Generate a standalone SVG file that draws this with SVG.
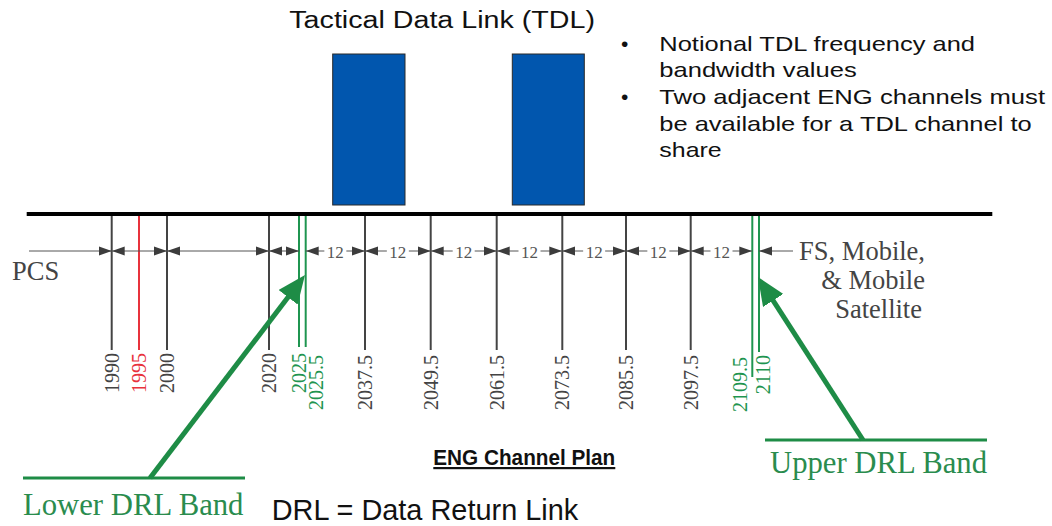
<svg xmlns="http://www.w3.org/2000/svg" width="1052" height="526" viewBox="0 0 1052 526">
<defs>
<style>
.sans{font-family:"Liberation Sans",Arial,sans-serif;fill:#111}
.serif{font-family:"Liberation Serif","Times New Roman",serif}
.tick{stroke:#444;stroke-width:2}
.tickG{stroke:#1f9550;stroke-width:2}
.tickR{stroke:#e8323c;stroke-width:2}
.lbl{font-family:"Liberation Serif","Times New Roman",serif;font-size:20px;fill:#444;text-anchor:end}
.lblG{fill:#1f9550}
.lblR{fill:#e8323c}
.dim{stroke:#555;stroke-width:1;fill:none;marker-end:url(#dimArrow)}
.dimtxt{font-family:"Liberation Serif","Times New Roman",serif;font-size:17px;fill:#555;text-anchor:middle}
.side{font-family:"Liberation Serif","Times New Roman",serif;font-size:26.5px;fill:#444}
.green{stroke:#1e8c46;fill:none}
.gtext{font-family:"Liberation Serif","Times New Roman",serif;font-size:30.7px;fill:#2a8c4e}
.tdl{fill:#0156ae;stroke:#2a2a2a;stroke-width:1}
</style>
<marker id="dimArrow" markerUnits="userSpaceOnUse" markerWidth="13" markerHeight="10" refX="13" refY="5" orient="auto">
<path d="M0,0.4 L13,5 L0,9.6Z" fill="#3c3c3c"/>
</marker>
<marker id="greenArrow" markerUnits="userSpaceOnUse" markerWidth="28" markerHeight="24" refX="10" refY="12" orient="auto">
<path d="M0,0 L28,12 L0,24Z" fill="#1e8c46"/>
</marker>
</defs>
<rect width="1052" height="526" fill="#fff"/>

<g id="title">
<text class="sans" x="289.3" y="28.3" font-size="23.5" textLength="305.7" lengthAdjust="spacingAndGlyphs">Tactical Data Link (TDL)</text>
</g>

<g id="tdl-channels">
<rect id="tdl1" class="tdl" x="332.7" y="54" width="72.3" height="151"/>
<rect id="tdl2" class="tdl" x="512.3" y="54" width="72" height="151"/>
</g>

<g id="notes">
<text class="sans" x="621" y="51" font-size="21">•</text>
<text class="sans" x="659.3" y="51" font-size="21" textLength="315.7" lengthAdjust="spacingAndGlyphs">Notional TDL frequency and</text>
<text class="sans" x="659.3" y="77.3" font-size="21" textLength="197.4" lengthAdjust="spacingAndGlyphs">bandwidth values</text>
<text class="sans" x="621" y="104.3" font-size="21">•</text>
<text class="sans" x="659.3" y="104.3" font-size="21" textLength="385.7" lengthAdjust="spacingAndGlyphs">Two adjacent ENG channels must</text>
<text class="sans" x="659.3" y="131" font-size="21" textLength="372.4" lengthAdjust="spacingAndGlyphs">be available for a TDL channel to</text>
<text class="sans" x="659.3" y="156.7" font-size="21" textLength="62.4" lengthAdjust="spacingAndGlyphs">share</text>
</g>

<g id="axis">
<line x1="26.7" y1="214" x2="992.3" y2="214" stroke="#000" stroke-width="4"/>
</g>

<g id="frequency-lines">
<line class="tick" x1="111.7" y1="216" x2="111.7" y2="350"/>
<line class="tickR" x1="139" y1="216" x2="139" y2="350"/>
<line class="tick" x1="167" y1="216" x2="167" y2="350"/>
<line class="tick" x1="269" y1="216" x2="269" y2="350"/>
<line class="tickG" x1="299" y1="216" x2="299" y2="347"/>
<line class="tickG" x1="305.7" y1="216" x2="305.7" y2="347"/>
<line class="tick" x1="365" y1="216" x2="365" y2="350"/>
<line class="tick" x1="430.7" y1="216" x2="430.7" y2="350"/>
<line class="tick" x1="496.7" y1="216" x2="496.7" y2="350"/>
<line class="tick" x1="562.3" y1="216" x2="562.3" y2="350"/>
<line class="tick" x1="626" y1="216" x2="626" y2="350"/>
<line class="tick" x1="690.7" y1="216" x2="690.7" y2="350"/>
<line class="tickG" x1="752.3" y1="216" x2="752.3" y2="377"/>
<line class="tickG" x1="759" y1="216" x2="759" y2="352"/>
</g>

<g id="frequency-labels">
<text class="lbl" transform="translate(118.5,353) rotate(-90)">1990</text>
<text class="lbl lblR" transform="translate(146,353) rotate(-90)">1995</text>
<text class="lbl" transform="translate(174,353) rotate(-90)">2000</text>
<text class="lbl" transform="translate(276,353) rotate(-90)">2020</text>
<text class="lbl lblG" transform="translate(305.5,353) rotate(-90)">2025</text>
<text class="lbl lblG" transform="translate(323,355) rotate(-90)">2025.5</text>
<text class="lbl" transform="translate(372,355) rotate(-90)">2037.5</text>
<text class="lbl" transform="translate(437.5,355) rotate(-90)">2049.5</text>
<text class="lbl" transform="translate(503.5,355) rotate(-90)">2061.5</text>
<text class="lbl" transform="translate(569,355) rotate(-90)">2073.5</text>
<text class="lbl" transform="translate(633,355) rotate(-90)">2085.5</text>
<text class="lbl" transform="translate(697.5,355) rotate(-90)">2097.5</text>
<text class="lbl lblG" transform="translate(747,357) rotate(-90)">2109.5</text>
<text class="lbl lblG" transform="translate(770,355) rotate(-90)">2110</text>
</g>

<g id="dimensions">
<line class="dim" x1="29" y1="251" x2="111.7" y2="251"/>
<line class="dim" x1="139" y1="251" x2="111.7" y2="251"/>
<line class="dim" x1="139" y1="251" x2="167" y2="251"/>
<line class="dim" x1="218" y1="251" x2="167" y2="251"/>
<line class="dim" x1="218" y1="251" x2="269" y2="251"/>
<line class="dim" x1="284" y1="251" x2="269" y2="251"/>
<line class="dim" x1="284" y1="251" x2="299" y2="251"/>
<line class="dim" x1="324.35" y1="251" x2="305.7" y2="251"/>
<line class="dim" x1="346.35" y1="251" x2="365" y2="251"/>
<text class="dimtxt" x="335.35" y="257.5">12</text>
<line class="dim" x1="386.85" y1="251" x2="365" y2="251"/>
<line class="dim" x1="408.85" y1="251" x2="430.7" y2="251"/>
<text class="dimtxt" x="397.85" y="257.5">12</text>
<line class="dim" x1="452.7" y1="251" x2="430.7" y2="251"/>
<line class="dim" x1="474.7" y1="251" x2="496.7" y2="251"/>
<text class="dimtxt" x="463.7" y="257.5">12</text>
<line class="dim" x1="518.5" y1="251" x2="496.7" y2="251"/>
<line class="dim" x1="540.5" y1="251" x2="562.3" y2="251"/>
<text class="dimtxt" x="529.5" y="257.5">12</text>
<line class="dim" x1="583.15" y1="251" x2="562.3" y2="251"/>
<line class="dim" x1="605.15" y1="251" x2="626" y2="251"/>
<text class="dimtxt" x="594.15" y="257.5">12</text>
<line class="dim" x1="647.35" y1="251" x2="626" y2="251"/>
<line class="dim" x1="669.35" y1="251" x2="690.7" y2="251"/>
<text class="dimtxt" x="658.35" y="257.5">12</text>
<line class="dim" x1="710.5" y1="251" x2="690.7" y2="251"/>
<line class="dim" x1="732.5" y1="251" x2="752.3" y2="251"/>
<text class="dimtxt" x="721.5" y="257.5">12</text>
<line class="dim" x1="793" y1="251" x2="759" y2="251"/>
</g>

<g id="pcs">
<text class="side" x="12" y="280" font-size="25.5">PCS</text>
</g>

<g id="fs-mobile">
<text class="side" text-anchor="end" x="925" y="260">FS, Mobile,</text>
<text class="side" text-anchor="end" x="925" y="289">&amp; Mobile</text>
<text class="side" text-anchor="end" x="922" y="318">Satellite</text>
</g>

<g id="lower-drl">
<line class="green" x1="23" y1="478" x2="245" y2="478" stroke-width="3"/>
<text class="gtext" x="23" y="515">Lower DRL Band</text>
</g>

<g id="upper-drl">
<line class="green" x1="765" y1="440" x2="987" y2="440" stroke-width="3"/>
<text class="gtext" x="770" y="473">Upper DRL Band</text>
</g>

<g id="connectors">
<line class="green" x1="150" y1="478" x2="294.1" y2="289.3" stroke-width="5" marker-end="url(#greenArrow)"/>
<line class="green" x1="863" y1="440" x2="767.7" y2="292.1" stroke-width="5" marker-end="url(#greenArrow)"/>
</g>

<g id="caption">
<text class="sans" x="433.3" y="465" font-size="22" font-weight="bold" text-decoration="underline" textLength="182" lengthAdjust="spacingAndGlyphs">ENG Channel Plan</text>
<text class="sans" x="271.7" y="520" font-size="29.5" textLength="306.6" lengthAdjust="spacingAndGlyphs">DRL = Data Return Link</text>
</g>
</svg>
